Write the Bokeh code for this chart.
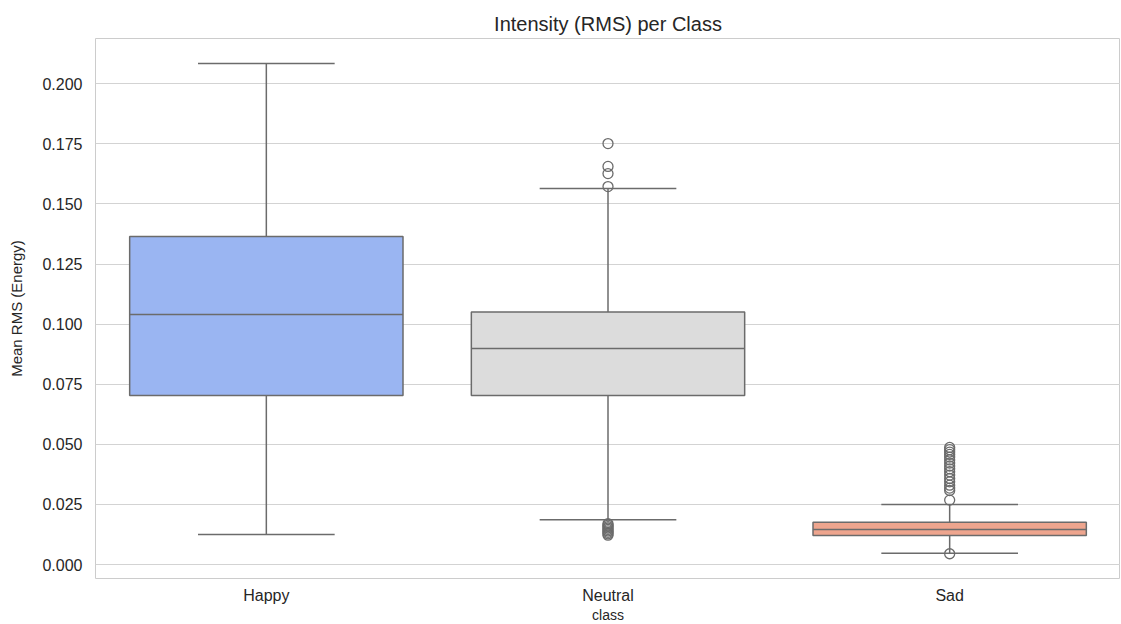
from bokeh.plotting import figure
from bokeh.models import ColumnDataSource, FactorRange, Range1d, FixedTicker, NumeralTickFormatter
from bokeh.transform import dodge
from bokeh.embed import file_html
from bokeh.resources import INLINE

classes = ["Happy", "Neutral", "Sad"]
colors = ["#9ab5f2", "#dcdcdc", "#eea58e"]
q1 = [0.0703, 0.0703, 0.0121]
median = [0.1040, 0.0899, 0.0146]
q3 = [0.1364, 0.1050, 0.0176]
whisker_low = [0.0125, 0.0186, 0.0047]
whisker_high = [0.2084, 0.1564, 0.0250]

neutral_outliers = [0.1751, 0.1656, 0.1626, 0.1572,
                    0.0170, 0.0164, 0.0158, 0.0152, 0.0146, 0.0140, 0.0134, 0.0128, 0.0122]
sad_outliers = [0.0487, 0.0478, 0.0468, 0.0458, 0.0447, 0.0435, 0.0422, 0.0410, 0.0398,
                0.0386, 0.0372, 0.0358, 0.0344, 0.0330, 0.0318, 0.0308, 0.0268, 0.0045]

yticks = [0.0, 0.025, 0.05, 0.075, 0.1, 0.125, 0.15, 0.175, 0.2]

LINE = "#6b6b6b"
FONT = "Liberation Sans"

src = ColumnDataSource(dict(cls=classes, color=colors, q1=q1, med=median, q3=q3,
                            lo=whisker_low, hi=whisker_high))
out_cls = ["Neutral"] * len(neutral_outliers) + ["Sad"] * len(sad_outliers)
out_val = neutral_outliers + sad_outliers
osrc = ColumnDataSource(dict(cls=out_cls, val=out_val))

p = figure(x_range=FactorRange(*classes, range_padding=0), y_range=Range1d(-0.0058, 0.2188),
           frame_width=1025, frame_height=540, output_backend="svg", toolbar_location=None,
           min_border_left=95, min_border_right=0, min_border_top=38, min_border_bottom=36,
           title="Intensity (RMS) per Class")

p.title.align = "center"
p.title.text_font = FONT
p.title.text_font_size = "20px"
p.title.text_font_style = "normal"
p.title.text_color = "#262626"
p.title.offset = 0
p.title.standoff = 8

# whiskers
p.segment(x0="cls", y0="q3", x1="cls", y1="hi", source=src, line_color=LINE, line_width=1.5)
p.segment(x0="cls", y0="q1", x1="cls", y1="lo", source=src, line_color=LINE, line_width=1.5)
p.segment(x0=dodge("cls", -0.2, range=p.x_range), y0="hi", x1=dodge("cls", 0.2, range=p.x_range), y1="hi",
          source=src, line_color=LINE, line_width=1.5)
p.segment(x0=dodge("cls", -0.2, range=p.x_range), y0="lo", x1=dodge("cls", 0.2, range=p.x_range), y1="lo",
          source=src, line_color=LINE, line_width=1.5)
# boxes
p.vbar(x="cls", bottom="q1", top="q3", width=0.8, source=src, fill_color="color",
       line_color=LINE, line_width=1.5)
# medians
p.segment(x0=dodge("cls", -0.4, range=p.x_range), y0="med", x1=dodge("cls", 0.4, range=p.x_range), y1="med",
          source=src, line_color=LINE, line_width=1.5)
# outliers
p.scatter(x="cls", y="val", source=osrc, size=10, fill_color=None, line_color=LINE, line_width=1.3)

p.xgrid.grid_line_color = None
p.ygrid.grid_line_color = "#d3d3d3"
p.ygrid.grid_line_width = 1
p.ygrid.ticker = FixedTicker(ticks=yticks)
p.yaxis.ticker = FixedTicker(ticks=yticks)
p.yaxis.formatter = NumeralTickFormatter(format="0.000")

p.outline_line_color = "#cccccc"
p.outline_line_width = 1
for ax in (p.xaxis, p.yaxis):
    ax.axis_line_color = None
    ax.major_tick_line_color = None
    ax.minor_tick_line_color = None
    ax.major_label_text_font = FONT
    ax.major_label_text_font_size = "16px"
    ax.major_label_text_color = "#262626"
    ax.axis_label_text_font = FONT
    ax.axis_label_text_font_size = "15px"
    ax.axis_label_text_font_style = "normal"
    ax.axis_label_text_color = "#262626"

p.xaxis.axis_label_text_font_size = "14px"
p.yaxis.axis_label = "Mean RMS (Energy)"
p.xaxis.axis_label = "class"
p.yaxis.major_label_standoff = 7
p.xaxis.major_label_standoff = 2
p.xaxis.axis_label_standoff = 0
p.yaxis.axis_label_standoff = 14

open("out.html", "w").write(file_html(p, INLINE))
